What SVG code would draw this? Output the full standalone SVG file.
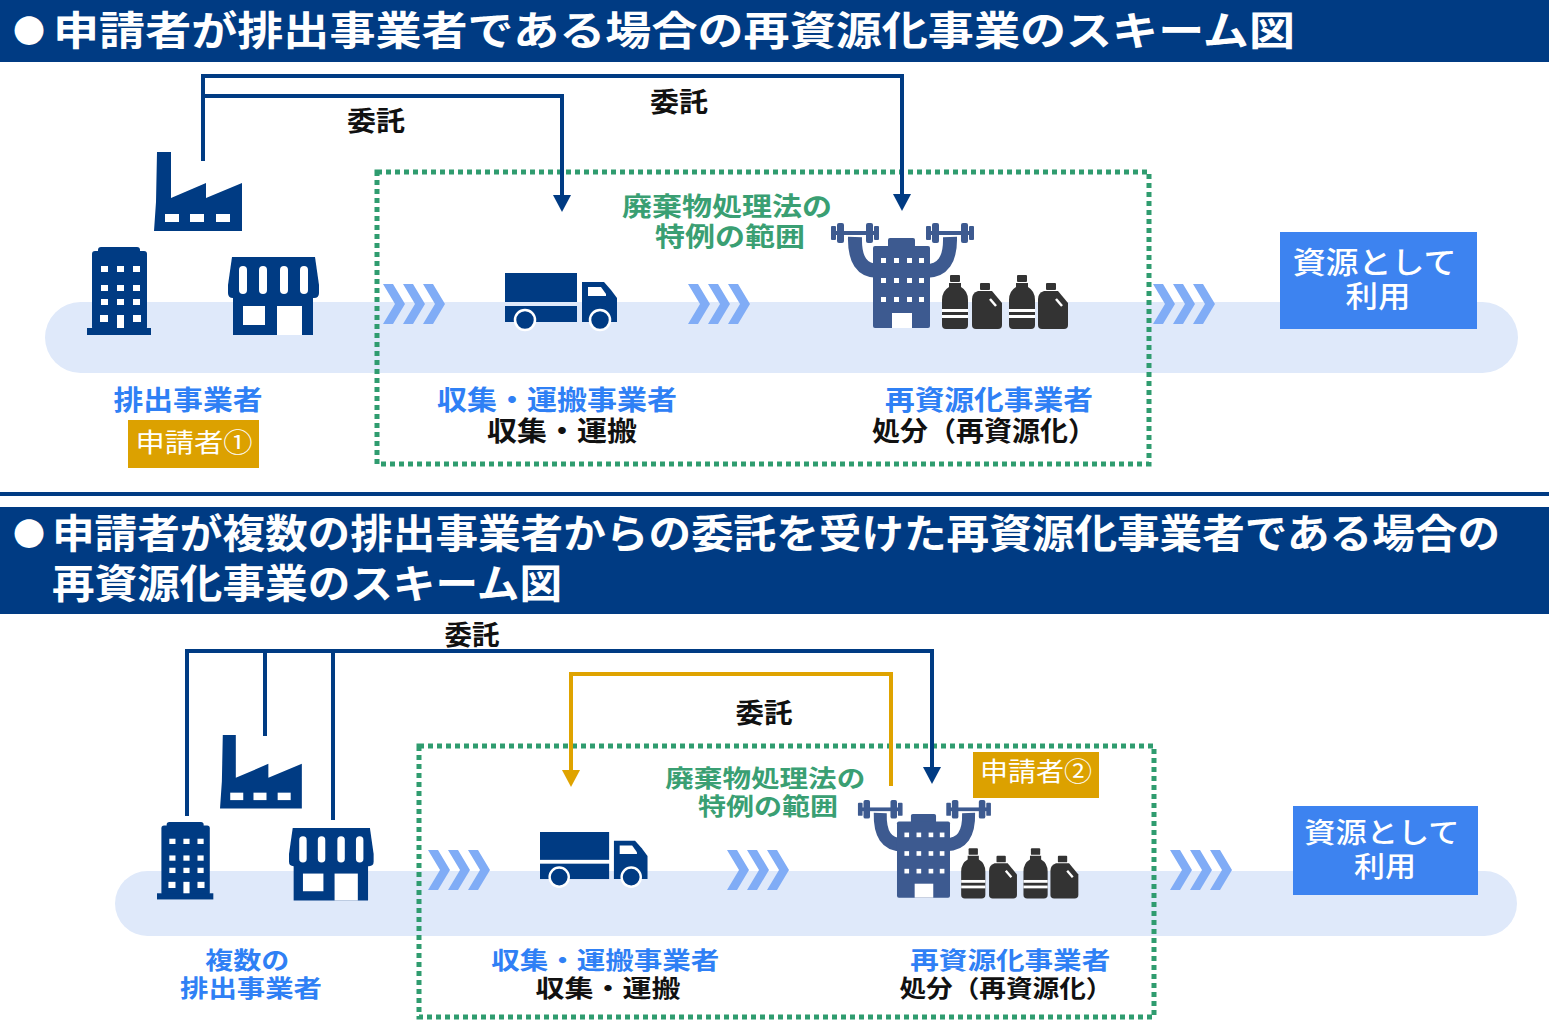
<svg xmlns="http://www.w3.org/2000/svg" xmlns:xlink="http://www.w3.org/1999/xlink" width="1549" height="1034" viewBox="0 0 1549 1034">
  <style>
    text { font-family: "Noto Sans CJK JP", "Noto Sans CJK SC", sans-serif; }
    .hdr { fill: #fff; font-weight: 700; }
    .navy { fill: #003b83; }
    .band { fill: #dfe9fa; }
    .scope { fill: none; stroke: #2f9c6f; stroke-width: 5; stroke-dasharray: 5 4; }
    .scope-txt { fill: #3a9f73; font-weight: 700; text-anchor: middle; }
    .lbl { font-weight: 700; text-anchor: middle; }
    .role { fill: #2f80f5; }
    .task { fill: #111; }
    .itaku { fill: #111; font-weight: 700; font-size: 27px; text-anchor: middle; }
    .conn { fill: none; stroke: #003b83; stroke-width: 4; }
    .conn-y { fill: none; stroke: #dfa300; stroke-width: 4; }
    .tag { fill: #dca100; }
    .tag-txt { fill: #fff; font-size: 26px; text-anchor: middle; }
    .use-box { fill: #3d83f0; }
    .use-txt { fill: #fff; font-weight: 500; text-anchor: middle; }
    .chev { fill: #80acf6; }
    .hole { fill: #fff; }
    .recyc { fill: #3d5a90; }
    .bottle { fill: #333; }
  </style>
  <defs>
    <marker id="arrow-navy" markerUnits="userSpaceOnUse" markerWidth="18" markerHeight="20" viewBox="0 0 18 20" refX="6" refY="10" orient="auto">
      <path d="M0,1 L17,10 L0,19 Z" fill="#003b83"/>
    </marker>
    <marker id="arrow-yellow" markerUnits="userSpaceOnUse" markerWidth="18" markerHeight="20" viewBox="0 0 18 20" refX="6" refY="10" orient="auto">
      <path d="M0,1 L17,10 L0,19 Z" fill="#dfa300"/>
    </marker>

    <!-- flow chevrons -->
    <g id="chevrons" class="chev">
      <polygon points="0,0 10,0 22,20 10,40 0,40 12,20"/>
      <polygon points="20,0 30,0 42,20 30,40 20,40 32,20"/>
      <polygon points="40,0 50,0 62,20 50,40 40,40 52,20"/>
    </g>

    <!-- factory icon -->
    <g id="icon-factory">
      <path class="navy" d="M3,0 H17 V46 L52,31 V46 L88,31 V79 H0 L2,50 Z"/>
      <rect class="hole" x="11" y="62" width="14" height="8"/>
      <rect class="hole" x="36" y="62" width="14" height="8"/>
      <rect class="hole" x="62" y="62" width="14" height="8"/>
    </g>

    <!-- office building icon -->
    <g id="icon-office">
      <rect class="navy" x="11" y="0" width="42" height="8" rx="3"/>
      <rect class="navy" x="5" y="4" width="55" height="79" rx="3"/>
      <rect class="navy" x="0" y="81" width="64" height="7"/>
      <g class="hole">
        <rect x="14" y="19" width="7" height="6"/><rect x="30" y="19" width="7" height="6"/><rect x="46" y="19" width="7" height="6"/>
        <rect x="14" y="38" width="7" height="6"/><rect x="30" y="38" width="7" height="6"/><rect x="46" y="38" width="7" height="6"/>
        <rect x="14" y="52" width="7" height="6"/><rect x="30" y="52" width="7" height="6"/><rect x="46" y="52" width="7" height="6"/>
        <rect x="13" y="68" width="8" height="7"/><rect x="46" y="68" width="8" height="7"/>
        <rect x="30" y="68" width="7" height="13"/>
      </g>
    </g>

    <!-- shop icon -->
    <g id="icon-shop">
      <path class="navy" d="M4,0 H87 L91,28 V36 Q91,41 86,41 H5 Q0,41 0,36 V28 Z"/>
      <g class="hole">
        <rect x="11" y="9" width="8" height="28" rx="4"/>
        <rect x="31" y="9" width="8" height="28" rx="4"/>
        <rect x="52" y="9" width="8" height="28" rx="4"/>
        <rect x="72" y="9" width="8" height="28" rx="4"/>
      </g>
      <path class="navy" d="M5,40 H85 V78 H5 Z"/>
      <rect class="hole" x="15" y="49" width="22" height="19"/>
      <rect class="hole" x="49" y="49" width="25" height="29"/>
    </g>

    <!-- truck icon -->
    <g id="icon-truck">
      <rect class="navy" x="0" y="0" width="72" height="29"/>
      <rect class="navy" x="0" y="33" width="72" height="16"/>
      <path class="navy" d="M77,9 H99 L106,17 L112,25 V49 H77 Z"/>
      <path class="hole" d="M83,14 H96 L101,21 V23 H83 Z"/>
      <circle class="navy" cx="20" cy="47" r="10" stroke="#fff" stroke-width="2.5"/>
      <circle class="navy" cx="95" cy="47" r="10" stroke="#fff" stroke-width="2.5"/>
    </g>

    <!-- recycler icon: building lifting dumbbells, with bottles -->
    <g id="icon-dumbbell" class="recyc">
      <rect x="4" y="8" width="42" height="4"/>
      <rect x="1" y="3" width="5" height="14" rx="1"/>
      <rect x="7" y="0" width="7" height="20" rx="2"/>
      <rect x="36" y="0" width="7" height="20" rx="2"/>
      <rect x="44" y="3" width="5" height="14" rx="1"/>
    </g>
    <g id="icon-bottle" class="bottle">
      <rect x="120" y="52" width="10" height="7" rx="1"/>
      <path d="M119,60 H131 V64 Q138,68 138,77 V102 Q138,106 134,106 H116 Q112,106 112,102 V77 Q112,68 119,64 Z"/>
      <rect class="hole" x="112" y="86" width="26" height="3"/>
      <rect class="hole" x="112" y="92" width="26" height="3"/>
    </g>
    <g id="icon-jug" class="bottle">
      <rect x="150" y="60" width="10" height="7" rx="1"/>
      <path d="M148,68 H162 L172,80 V102 Q172,106 168,106 H146 Q142,106 142,102 V76 Q142,70 148,68 Z"/>
      <path d="M160,76 L166,83" stroke="#fff" stroke-width="2.5"/>
    </g>
    <g id="icon-recycler">
      <use xlink:href="#icon-dumbbell" x="0" y="0"/>
      <use xlink:href="#icon-dumbbell" x="95" y="0"/>
      <path d="M25,14 Q24,48 48,48" fill="none" stroke="#3d5a90" stroke-width="14"/>
      <path d="M120,14 Q121,48 96,48" fill="none" stroke="#3d5a90" stroke-width="14"/>
      <rect class="recyc" x="58" y="15" width="27" height="10" rx="2"/>
      <rect class="recyc" x="43" y="23" width="57" height="82" rx="2"/>
      <g class="hole">
        <rect x="51" y="35" width="5" height="5"/><rect x="64" y="35" width="5" height="5"/><rect x="77" y="35" width="5" height="5"/><rect x="89" y="35" width="5" height="5"/>
        <rect x="51" y="55" width="5" height="5"/><rect x="64" y="55" width="5" height="5"/><rect x="77" y="55" width="5" height="5"/><rect x="89" y="55" width="5" height="5"/>
        <rect x="51" y="74" width="5" height="5"/><rect x="64" y="74" width="5" height="5"/><rect x="77" y="74" width="5" height="5"/><rect x="89" y="74" width="5" height="5"/>
        <rect x="62" y="90" width="20" height="15"/>
      </g>
      <use xlink:href="#icon-bottle"/>
      <use xlink:href="#icon-jug"/>
      <use xlink:href="#icon-bottle" x="67"/>
      <use xlink:href="#icon-jug" x="66"/>
    </g>
  </defs>

  <rect width="1549" height="1034" fill="#fff"/>

  <!-- ===== Scheme 1 ===== -->
  <g id="header-1">
    <rect class="navy" x="0" y="0" width="1549" height="62"/>
    <text class="hdr" x="13" y="43" font-size="32">●</text>
    <text class="hdr" x="53" y="45" font-size="40" textLength="1242" lengthAdjust="spacingAndGlyphs">申請者が排出事業者である場合の再資源化事業のスキーム図</text>
  </g>

  <rect class="band" x="45" y="302" width="1473" height="71" rx="35.5"/>
  <rect id="scope-1" class="scope" x="377" y="172" width="772" height="292"/>

  <g id="chevrons-1">
    <use xlink:href="#chevrons" x="383" y="284"/>
    <use xlink:href="#chevrons" x="688" y="284"/>
    <use xlink:href="#chevrons" x="1153" y="284"/>
  </g>

  <g id="connectors-1">
    <path class="conn" d="M203,161 V76 H902 V200" marker-end="url(#arrow-navy)"/>
    <path class="conn" d="M203,96 H562 V201" marker-end="url(#arrow-navy)"/>
    <text class="itaku" x="376" y="131" textLength="58" lengthAdjust="spacingAndGlyphs">委託</text>
    <text class="itaku" x="679" y="112" textLength="58" lengthAdjust="spacingAndGlyphs">委託</text>
  </g>

  <g id="emitter-1">
    <use xlink:href="#icon-factory" transform="translate(154,152)"/>
    <use xlink:href="#icon-office" transform="translate(87,247)"/>
    <use xlink:href="#icon-shop" transform="translate(228,257)"/>
    <text class="lbl role" x="188" y="410" font-size="27" textLength="149" lengthAdjust="spacingAndGlyphs">排出事業者</text>
    <rect class="tag" x="128" y="420" width="131" height="48"/>
    <text class="tag-txt" x="194" y="452" textLength="117" lengthAdjust="spacingAndGlyphs">申請者①</text>
  </g>

  <text id="scope-label-1" class="scope-txt" font-size="26">
    <tspan x="730" y="216" textLength="210" lengthAdjust="spacingAndGlyphs">廃棄物処理法の</tspan>
    <tspan x="730" y="246" textLength="150" lengthAdjust="spacingAndGlyphs">特例の範囲</tspan>
  </text>

  <g id="carrier-1">
    <use xlink:href="#icon-truck" transform="translate(505,273)"/>
    <text class="lbl" font-size="27">
      <tspan class="role" x="560" y="410" textLength="240" lengthAdjust="spacingAndGlyphs">収集・運搬事業者</tspan>
      <tspan class="task" x="562" y="441" textLength="150" lengthAdjust="spacingAndGlyphs">収集・運搬</tspan>
    </text>
  </g>

  <g id="recycler-1">
    <use xlink:href="#icon-recycler" transform="translate(830,223)"/>
    <text class="lbl" font-size="27">
      <tspan class="role" x="992" y="410" textLength="208" lengthAdjust="spacingAndGlyphs">再資源化事業者</tspan>
      <tspan class="task" x="984" y="441" textLength="224" lengthAdjust="spacingAndGlyphs">処分（再資源化）</tspan>
    </text>
  </g>

  <g id="reuse-1">
    <rect class="use-box" x="1280" y="232" width="197" height="97"/>
    <text class="use-txt" font-size="30">
      <tspan x="1378" y="273" textLength="164" lengthAdjust="spacingAndGlyphs">資源として</tspan>
      <tspan x="1378" y="307" textLength="65" lengthAdjust="spacingAndGlyphs">利用</tspan>
    </text>
  </g>

  <rect class="navy" x="0" y="492" width="1549" height="4"/>

  <!-- ===== Scheme 2 ===== -->
  <g id="header-2">
    <rect class="navy" x="0" y="507" width="1549" height="107"/>
    <text class="hdr" x="13" y="546" font-size="32">●</text>
    <text class="hdr" font-size="40">
      <tspan x="52" y="548" textLength="1448" lengthAdjust="spacingAndGlyphs">申請者が複数の排出事業者からの委託を受けた再資源化事業者である場合の</tspan>
      <tspan x="52" y="598" textLength="510" lengthAdjust="spacingAndGlyphs">再資源化事業のスキーム図</tspan>
    </text>
  </g>

  <rect class="band" x="115" y="871" width="1402" height="65" rx="32.5"/>
  <rect id="scope-2" class="scope" x="419" y="746" width="735" height="271"/>

  <g id="chevrons-2">
    <use xlink:href="#chevrons" x="428" y="850"/>
    <use xlink:href="#chevrons" x="727" y="850"/>
    <use xlink:href="#chevrons" x="1170" y="850"/>
  </g>

  <g id="connectors-2">
    <path class="conn" d="M187,816 V651 H932 V773" marker-end="url(#arrow-navy)"/>
    <path class="conn" d="M265,736 V651"/>
    <path class="conn" d="M333,820 V651"/>
    <path class="conn-y" d="M891,786 V674 H571 V776" marker-end="url(#arrow-yellow)"/>
    <text class="itaku" x="472" y="645" textLength="55" lengthAdjust="spacingAndGlyphs">委託</text>
    <text class="itaku" x="764" y="723" textLength="57" lengthAdjust="spacingAndGlyphs">委託</text>
  </g>

  <g id="emitters-2">
    <use xlink:href="#icon-factory" transform="translate(220,735) scale(0.93)"/>
    <use xlink:href="#icon-office" transform="translate(157,822) scale(0.88)"/>
    <use xlink:href="#icon-shop" transform="translate(289,828) scale(0.93)"/>
    <text class="lbl role" font-size="24">
      <tspan x="250" y="969" textLength="84" lengthAdjust="spacingAndGlyphs">複数の</tspan>
      <tspan x="251" y="997" textLength="142" lengthAdjust="spacingAndGlyphs">排出事業者</tspan>
    </text>
  </g>

  <text id="scope-label-2" class="scope-txt" font-size="24">
    <tspan x="768" y="787" textLength="200" lengthAdjust="spacingAndGlyphs">廃棄物処理法の</tspan>
    <tspan x="768" y="815" textLength="140" lengthAdjust="spacingAndGlyphs">特例の範囲</tspan>
  </text>

  <g id="carrier-2">
    <use xlink:href="#icon-truck" transform="translate(540,832) scale(0.96)"/>
    <text class="lbl" font-size="24">
      <tspan class="role" x="608" y="969" textLength="228" lengthAdjust="spacingAndGlyphs">収集・運搬事業者</tspan>
      <tspan class="task" x="608" y="997" textLength="145" lengthAdjust="spacingAndGlyphs">収集・運搬</tspan>
    </text>
  </g>

  <g id="recycler-2">
    <use xlink:href="#icon-recycler" transform="translate(857,800) scale(0.93)"/>
    <rect class="tag" x="973" y="752" width="126" height="46"/>
    <text class="tag-txt" x="1036" y="781" textLength="112" lengthAdjust="spacingAndGlyphs">申請者②</text>
    <text class="lbl" font-size="24">
      <tspan class="role" x="1013" y="969" textLength="200" lengthAdjust="spacingAndGlyphs">再資源化事業者</tspan>
      <tspan class="task" x="1006" y="997" textLength="213" lengthAdjust="spacingAndGlyphs">処分（再資源化）</tspan>
    </text>
  </g>

  <g id="reuse-2">
    <rect class="use-box" x="1293" y="806" width="185" height="89"/>
    <text class="use-txt" font-size="28">
      <tspan x="1385" y="843" textLength="155" lengthAdjust="spacingAndGlyphs">資源として</tspan>
      <tspan x="1385" y="877" textLength="62" lengthAdjust="spacingAndGlyphs">利用</tspan>
    </text>
  </g>
</svg>
